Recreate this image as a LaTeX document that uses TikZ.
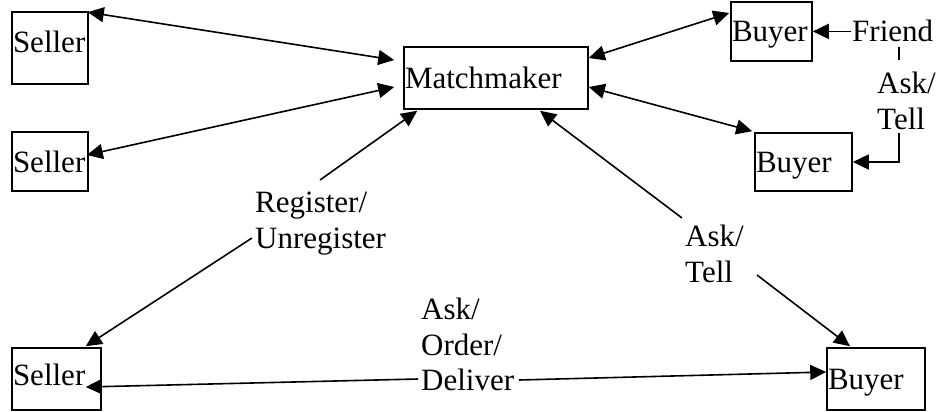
\documentclass[tikz,border=0pt]{standalone}
\usepackage{fontspec}
\setmainfont{Liberation Serif}
\usetikzlibrary{arrows.meta,calc}
\begin{document}
\begin{tikzpicture}[x=1pt,y=-1pt,
  font=\fontsize{31}{35.5}\selectfont,
  box/.style={draw, line width=1.6pt, inner xsep=1pt, inner ysep=0pt, align=left, anchor=center, text height=21pt, text depth=0pt},
  lbl/.style={inner sep=0pt, align=left, anchor=north west},
  conn/.style={line width=1.6pt},
  tip/.style={conn, -{Triangle[length=16pt,width=15pt]}},
  both/.style={conn, {Triangle[length=16pt,width=15pt]}-{Triangle[length=16pt,width=15pt]}}]
\useasboundingbox (0,0) rectangle (938,412);
% boxes
\node[box, text width=74pt, minimum height=72pt, text depth=11pt] (s1) at (50,48) {Seller};
\node[box, text width=74pt, minimum height=59pt] (s2) at (50,161.5) {Seller};
\node[box, text width=87pt, minimum height=62pt, text depth=9pt] (s3) at (56.5,379) {Seller};
\node[box, text width=182pt, minimum height=62pt] (mm) at (496,78) {Matchmaker};
\node[box, text width=79pt, minimum height=59pt] (b1) at (771.5,31.5) {Buyer};
\node[box, text width=95pt, minimum height=58pt] (b2) at (803.5,162) {Buyer};
\node[box, text width=96pt, minimum height=62pt] (b3) at (876,379) {Buyer};
% labels
\node[inner sep=0pt, anchor=base west] (friend) at (852,42) {Friend};
\node[lbl] (askR) at (877,72) {Ask/\\Tell};
\node[lbl] (reg) at (255,192) {Register/\\Unregister};
\node[lbl] (askM) at (685,225) {Ask/\\Tell};
\node[lbl] (aod) at (421,298) {Ask/\\Order/\\Deliver};
% connectors
\draw[both] ($(s1.north east)+(-1,1)$) -- ($(mm.west)+(-9,-18)$);
\draw[both] ($(s2.east)+(-2,-6.5)$) -- ($(mm.west)+(-9,9)$);
\draw[tip] ($(reg.north west)+(65,-12)$) -- ($(mm.south west)+(14,1)$);
\draw[tip] ($(reg.north west)+(-3,46)$) -- ($(s3.north east)+(-16,-1)$);
\draw[tip] ($(aod.north west)+(-3,81)$) -- ($(s3.east)+(-16,8)$);
\draw[tip] ($(aod.north west)+(98,82)$) -- ($(b3.west)+(0,-7)$);
\draw[tip] ($(askM.north west)+(-3,-7)$) -- ($(mm.south)+(44,1)$);
\draw[tip] ($(askM.north west)+(72,50)$) -- ($(b3.north)+(-26,-1)$);
\draw[both] ($(mm.east)+(0,-20)$) -- ($(b1.west)+(-1,-18.5)$);
\draw[both] ($(mm.east)+(0,9)$) -- ($(b2.north west)+(-2,-1)$);
\draw[tip] ($(friend.west)+(-1,0)$) -- (friend.west -| b1.east);
\draw[conn] ($(friend.base west)+(47,5)$) -- ($(askR.north west)+(22,-12)$);
\draw[tip] ($(askR.north west)+(22,61)$) |- (b2.east);
\end{tikzpicture}
\end{document}
